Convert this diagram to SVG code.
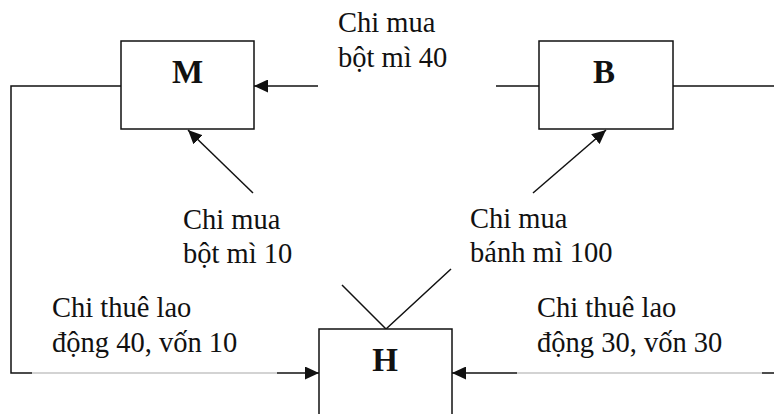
<svg xmlns="http://www.w3.org/2000/svg" width="774" height="414" viewBox="0 0 774 414">
  <defs>
    <marker id="arrow" markerUnits="userSpaceOnUse" markerWidth="15" markerHeight="13" refX="14" refY="6.5" orient="auto">
      <path d="M0,0 L14,6.5 L0,13 z" fill="#111"/>
    </marker>
  </defs>
  <style>
    .box { fill: #fff; stroke: #111; stroke-width: 1.5; }
    .line { fill: none; stroke: #111; stroke-width: 1.5; }
    .faint { fill: none; stroke: #a8a8a8; stroke-width: 1.2; }
    .name { font-family: 'Liberation Serif', serif; font-weight: bold; font-size: 33px; fill: #111; text-anchor: middle; }
    .label { font-family: 'Liberation Serif', serif; font-size: 28.5px; fill: #111; }
  </style>
  <rect width="774" height="414" fill="#fff"/>

  <g id="connectors">
    <!-- M's outflow loop down to H -->
    <polyline class="line" points="121,86 11,86 11,373 32,373"/>
    <line class="faint" x1="32" y1="373" x2="277" y2="373"/>
    <line class="line" x1="277" y1="373" x2="319" y2="373" marker-end="url(#arrow)"/>
    <!-- B pays M for flour -->
    <line class="line" x1="496" y1="86" x2="539" y2="86"/>
    <line class="line" x1="318" y1="86" x2="254" y2="86" marker-end="url(#arrow)"/>
    <!-- B's outflow loop to H -->
    <line class="line" x1="673" y1="86" x2="774" y2="86"/>
    <line class="line" x1="774" y1="373" x2="762" y2="373"/>
    <line class="faint" x1="762" y1="373" x2="517" y2="373"/>
    <line class="line" x1="517" y1="373" x2="452" y2="373" marker-end="url(#arrow)"/>
    <!-- H spends on M and B -->
    <line class="line" x1="253" y1="193" x2="188" y2="130" marker-end="url(#arrow)"/>
    <line class="line" x1="533" y1="193" x2="606" y2="130" marker-end="url(#arrow)"/>
    <polyline class="line" points="342,285 386,329 451,269"/>
  </g>

  <g id="node-M">
    <rect class="box" x="121" y="41" width="133" height="88"/>
    <text class="name" x="187.5" y="83">M</text>
  </g>

  <g id="node-B">
    <rect class="box" x="539" y="41" width="134" height="88"/>
    <text class="name" x="604" y="83">B</text>
  </g>

  <g id="node-H">
    <rect class="box" x="319" y="329" width="133" height="100"/>
    <text class="name" x="385" y="371">H</text>
  </g>

  <g id="labels">
    <text class="label" x="338" y="32">Chi mua</text>
    <text class="label" x="338" y="67">bột mì 40</text>

    <text class="label" x="183" y="229">Chi mua</text>
    <text class="label" x="183" y="263">bột mì 10</text>

    <text class="label" x="470" y="228">Chi mua</text>
    <text class="label" x="470" y="262">bánh mì 100</text>

    <text class="label" x="52" y="317">Chi thuê lao</text>
    <text class="label" x="52" y="352">động 40, vốn 10</text>

    <text class="label" x="537" y="317">Chi thuê lao</text>
    <text class="label" x="537" y="352">động 30, vốn 30</text>
  </g>
</svg>
